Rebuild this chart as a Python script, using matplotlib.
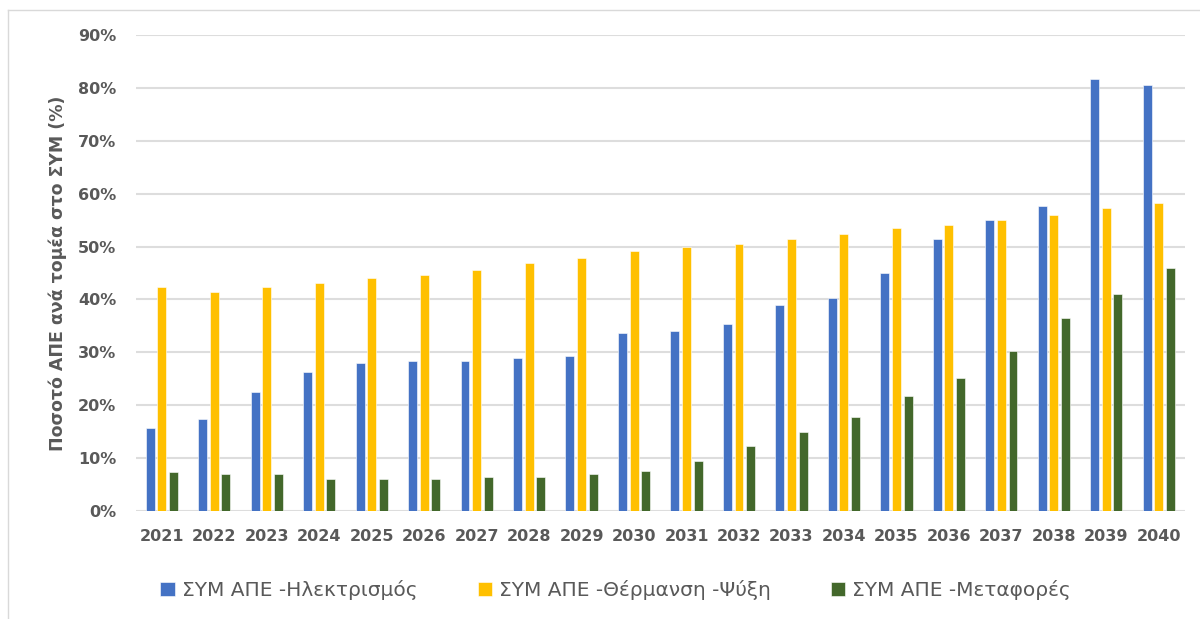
import numpy as np
import matplotlib as mpl
import matplotlib.pyplot as plt

# Data (share of RES per sector, %)
years = [str(y) for y in range(2021, 2041)]
elec = [15.7, 17.4, 22.5, 26.3, 28.0, 28.4, 28.4, 28.9, 29.3, 33.6,
        34.0, 35.3, 38.9, 40.3, 45.0, 51.4, 55.0, 57.7, 81.7, 80.5]
heat = [42.3, 41.4, 42.3, 43.1, 44.0, 44.6, 45.6, 46.9, 47.8, 49.1,
        49.9, 50.5, 51.4, 52.4, 53.5, 54.1, 55.0, 56.0, 57.3, 58.2]
trans = [7.4, 7.0, 7.0, 6.0, 6.0, 6.0, 6.4, 6.4, 7.0, 7.6,
         9.5, 12.3, 14.9, 17.8, 21.7, 25.1, 30.2, 36.5, 41.0, 45.9]
series_names = ['ΣΥΜ ΑΠΕ -Ηλεκτρισμός', 'ΣΥΜ ΑΠΕ -Θέρμανση -Ψύξη', 'ΣΥΜ ΑΠΕ -Μεταφορές']
colors = ['#4472C4', '#FFC000', '#43682B']
yticks = np.arange(0, 91, 10)

txt = '#595959'
mpl.rcParams['font.family'] = ['DejaVu Sans']

fig = plt.figure(figsize=(12, 6.19), dpi=100)
ax = fig.add_axes([0.113, 0.1745, 0.8745, 0.769])

x = np.arange(len(years))
w = 0.17
off = 0.222
for i, (vals, name, c) in enumerate(zip([elec, heat, trans], series_names, colors)):
    ax.bar(x + (i - 1) * off, vals, w, color=c, label=name,
           edgecolor='white', linewidth=0.4, zorder=3)

ax.set_xlim(-0.5, len(years) - 0.5)
ax.set_ylim(0, 90)
ax.set_yticks(yticks)
ax.set_yticklabels([f'{t}%' for t in yticks], fontsize=11.5, fontweight='bold', color=txt)
ax.set_xticks(x)
ax.set_xticklabels(years, fontsize=11.5, fontweight='bold', color=txt)
ax.tick_params(length=0, pad=14, axis='y')
ax.tick_params(length=0, pad=13, axis='x')
ax.grid(axis='y', color='#DDDDDD', linewidth=1.5, zorder=0)
for s in ax.spines.values():
    s.set_visible(False)

ax.set_ylabel('Ποσοτό ΑΠΕ ανά τομέα στο ΣΥΜ (%)', fontsize=12.5,
              fontweight='bold', color=txt, labelpad=8)

fig.legend(loc='center', bbox_to_anchor=(0.513, 0.047), ncol=3, frameon=False,
           fontsize=14.5, labelcolor=txt, handlelength=0.7, handleheight=0.7,
           handletextpad=0.35, columnspacing=3.0)

# thin frame around the chart (only top/left visible in reference)
fig.add_artist(plt.Line2D([8 / 1200, 1], [1 - 10 / 619, 1 - 10 / 619],
                          color='#D9D9D9', linewidth=1, transform=fig.transFigure))
fig.add_artist(plt.Line2D([8 / 1200, 8 / 1200], [0, 1 - 10 / 619],
                          color='#D9D9D9', linewidth=1, transform=fig.transFigure))

fig.savefig('out.png', dpi=100, facecolor='white')
